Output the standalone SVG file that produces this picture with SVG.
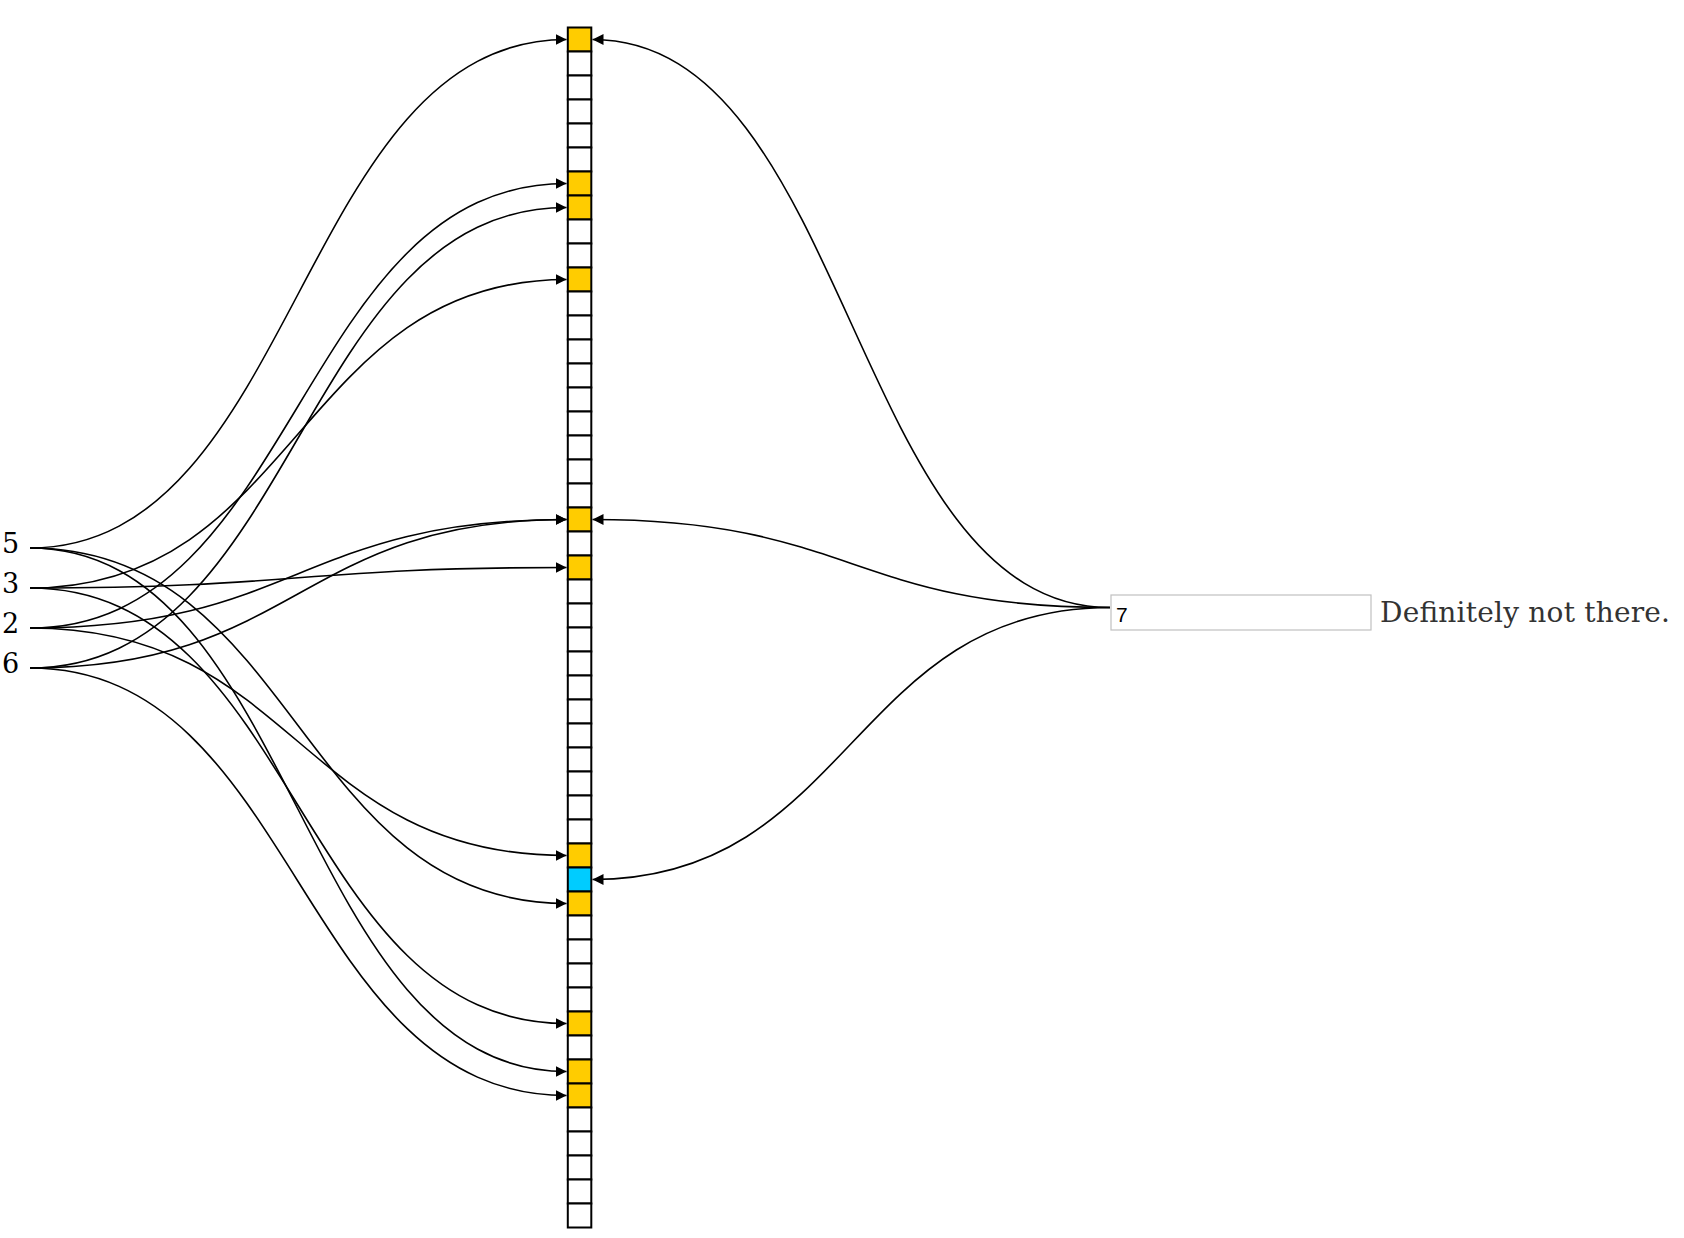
<svg xmlns="http://www.w3.org/2000/svg" width="1684" height="1238" viewBox="0 0 1684 1238">
<defs>
<style>
.cell{fill:#fff;stroke:#000;stroke-width:2}
.on{fill:#ffcc00}
.hit{fill:#00ccff}
.link{fill:none;stroke:#000;stroke-width:1.6;marker-end:url(#arrow)}
.lbl{font-family:"DejaVu Serif","Liberation Serif",serif;font-size:27px;fill:#000}
.msg{font-family:"DejaVu Serif","Liberation Serif",serif;font-size:28px;fill:#333}
.qbox{fill:#fff;stroke:#c0c0c0;stroke-width:1.2}
.qtxt{font-family:"Liberation Sans",Arial,sans-serif;font-size:21px;fill:#000}
</style>
<marker id="arrow" viewBox="0 0 10 10" refX="10" refY="5" markerWidth="11" markerHeight="11" markerUnits="userSpaceOnUse" orient="auto">
<path d="M0,0L10,5L0,10z" fill="#000"/>
</marker>
</defs>
<rect width="1684" height="1238" fill="#fff"/>
<g id="bits">
<g id="bit-0"><rect class="cell on" x="567.8" y="27.5" width="23.5" height="24"/></g>
<g id="bit-1"><rect class="cell" x="567.8" y="51.5" width="23.5" height="24"/></g>
<g id="bit-2"><rect class="cell" x="567.8" y="75.5" width="23.5" height="24"/></g>
<g id="bit-3"><rect class="cell" x="567.8" y="99.5" width="23.5" height="24"/></g>
<g id="bit-4"><rect class="cell" x="567.8" y="123.5" width="23.5" height="24"/></g>
<g id="bit-5"><rect class="cell" x="567.8" y="147.5" width="23.5" height="24"/></g>
<g id="bit-6"><rect class="cell on" x="567.8" y="171.5" width="23.5" height="24"/></g>
<g id="bit-7"><rect class="cell on" x="567.8" y="195.5" width="23.5" height="24"/></g>
<g id="bit-8"><rect class="cell" x="567.8" y="219.5" width="23.5" height="24"/></g>
<g id="bit-9"><rect class="cell" x="567.8" y="243.5" width="23.5" height="24"/></g>
<g id="bit-10"><rect class="cell on" x="567.8" y="267.5" width="23.5" height="24"/></g>
<g id="bit-11"><rect class="cell" x="567.8" y="291.5" width="23.5" height="24"/></g>
<g id="bit-12"><rect class="cell" x="567.8" y="315.5" width="23.5" height="24"/></g>
<g id="bit-13"><rect class="cell" x="567.8" y="339.5" width="23.5" height="24"/></g>
<g id="bit-14"><rect class="cell" x="567.8" y="363.5" width="23.5" height="24"/></g>
<g id="bit-15"><rect class="cell" x="567.8" y="387.5" width="23.5" height="24"/></g>
<g id="bit-16"><rect class="cell" x="567.8" y="411.5" width="23.5" height="24"/></g>
<g id="bit-17"><rect class="cell" x="567.8" y="435.5" width="23.5" height="24"/></g>
<g id="bit-18"><rect class="cell" x="567.8" y="459.5" width="23.5" height="24"/></g>
<g id="bit-19"><rect class="cell" x="567.8" y="483.5" width="23.5" height="24"/></g>
<g id="bit-20"><rect class="cell on" x="567.8" y="507.5" width="23.5" height="24"/></g>
<g id="bit-21"><rect class="cell" x="567.8" y="531.5" width="23.5" height="24"/></g>
<g id="bit-22"><rect class="cell on" x="567.8" y="555.5" width="23.5" height="24"/></g>
<g id="bit-23"><rect class="cell" x="567.8" y="579.5" width="23.5" height="24"/></g>
<g id="bit-24"><rect class="cell" x="567.8" y="603.5" width="23.5" height="24"/></g>
<g id="bit-25"><rect class="cell" x="567.8" y="627.5" width="23.5" height="24"/></g>
<g id="bit-26"><rect class="cell" x="567.8" y="651.5" width="23.5" height="24"/></g>
<g id="bit-27"><rect class="cell" x="567.8" y="675.5" width="23.5" height="24"/></g>
<g id="bit-28"><rect class="cell" x="567.8" y="699.5" width="23.5" height="24"/></g>
<g id="bit-29"><rect class="cell" x="567.8" y="723.5" width="23.5" height="24"/></g>
<g id="bit-30"><rect class="cell" x="567.8" y="747.5" width="23.5" height="24"/></g>
<g id="bit-31"><rect class="cell" x="567.8" y="771.5" width="23.5" height="24"/></g>
<g id="bit-32"><rect class="cell" x="567.8" y="795.5" width="23.5" height="24"/></g>
<g id="bit-33"><rect class="cell" x="567.8" y="819.5" width="23.5" height="24"/></g>
<g id="bit-34"><rect class="cell on" x="567.8" y="843.5" width="23.5" height="24"/></g>
<g id="bit-35"><rect class="cell hit" x="567.8" y="867.5" width="23.5" height="24"/></g>
<g id="bit-36"><rect class="cell on" x="567.8" y="891.5" width="23.5" height="24"/></g>
<g id="bit-37"><rect class="cell" x="567.8" y="915.5" width="23.5" height="24"/></g>
<g id="bit-38"><rect class="cell" x="567.8" y="939.5" width="23.5" height="24"/></g>
<g id="bit-39"><rect class="cell" x="567.8" y="963.5" width="23.5" height="24"/></g>
<g id="bit-40"><rect class="cell" x="567.8" y="987.5" width="23.5" height="24"/></g>
<g id="bit-41"><rect class="cell on" x="567.8" y="1011.5" width="23.5" height="24"/></g>
<g id="bit-42"><rect class="cell" x="567.8" y="1035.5" width="23.5" height="24"/></g>
<g id="bit-43"><rect class="cell on" x="567.8" y="1059.5" width="23.5" height="24"/></g>
<g id="bit-44"><rect class="cell on" x="567.8" y="1083.5" width="23.5" height="24"/></g>
<g id="bit-45"><rect class="cell" x="567.8" y="1107.5" width="23.5" height="24"/></g>
<g id="bit-46"><rect class="cell" x="567.8" y="1131.5" width="23.5" height="24"/></g>
<g id="bit-47"><rect class="cell" x="567.8" y="1155.5" width="23.5" height="24"/></g>
<g id="bit-48"><rect class="cell" x="567.8" y="1179.5" width="23.5" height="24"/></g>
<g id="bit-49"><rect class="cell" x="567.8" y="1203.5" width="23.5" height="24"/></g>
</g>
<g id="input-5"><text class="lbl" x="2" y="553">5</text></g>
<g id="input-3"><text class="lbl" x="2" y="593">3</text></g>
<g id="input-2"><text class="lbl" x="2" y="633">2</text></g>
<g id="input-6"><text class="lbl" x="2" y="673">6</text></g>
<g id="query">
<rect class="qbox" x="1111" y="595" width="260" height="35"/>
<text class="qtxt" x="1116" y="621.5">7</text>
</g>
<g id="result"><text class="msg" x="1380" y="622" textLength="290">Definitely not there.</text></g>
<g id="connectors">
<path class="link" d="M30,548C298.25,548 298.25,39.5 566.5,39.5"/>
<path class="link" d="M30,548C298.25,548 298.25,903.5 566.5,903.5"/>
<path class="link" d="M30,548C298.25,548 298.25,1071.5 566.5,1071.5"/>
<path class="link" d="M30,588C298.25,588 298.25,279.5 566.5,279.5"/>
<path class="link" d="M30,588C298.25,588 298.25,567.5 566.5,567.5"/>
<path class="link" d="M30,588C298.25,588 298.25,1023.5 566.5,1023.5"/>
<path class="link" d="M30,628C298.25,628 298.25,183.5 566.5,183.5"/>
<path class="link" d="M30,628C298.25,628 298.25,519.5 566.5,519.5"/>
<path class="link" d="M30,628C298.25,628 298.25,855.5 566.5,855.5"/>
<path class="link" d="M30,668C298.25,668 298.25,207.5 566.5,207.5"/>
<path class="link" d="M30,668C298.25,668 298.25,519.5 566.5,519.5"/>
<path class="link" d="M30,668C298.25,668 298.25,1095.5 566.5,1095.5"/>
<path class="link" d="M1110,607.5C851.25,607.5 851.25,39.5 592.5,39.5"/>
<path class="link" d="M1110,607.5C851.25,607.5 851.25,519.5 592.5,519.5"/>
<path class="link" d="M1110,607.5C851.25,607.5 851.25,879.5 592.5,879.5"/>
</g>
</svg>
